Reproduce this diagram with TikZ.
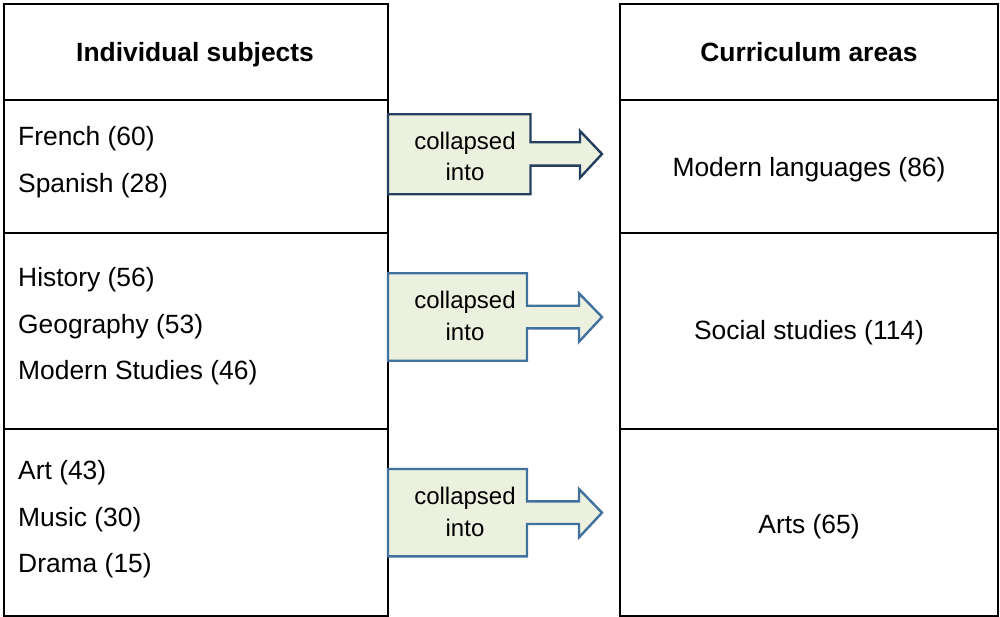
\documentclass[tikz,border=0pt]{standalone}
\usepackage{fontspec}
\setmainfont{Liberation Sans}
\definecolor{boxfill}{HTML}{EBF1DE}
\definecolor{darkedge}{HTML}{243F60}
\definecolor{lightedge}{HTML}{41719C}
\begin{document}
\begin{tikzpicture}[x=1pt,y=-1pt,
  cell/.style={draw=black,line width=2pt,inner sep=0pt},
  head/.style={font=\fontsize{26.4}{30}\selectfont\bfseries},
  item/.style={font=\fontsize{26.4}{30}\selectfont,anchor=west,inner sep=0pt},
  area/.style={font=\fontsize{26.4}{30}\selectfont,inner sep=0pt},
  calltext/.style={font=\fontsize{24}{28}\selectfont,inner sep=0pt},
  callout/.style={fill=boxfill,line width=2.4pt,line join=miter}]
\useasboundingbox (0,0) rectangle (1000,617);
% table cells
\foreach \x/\X/\s in {3.5/388/L,620/998/R}{
  \draw[line width=2pt] (\x,4) rectangle (\X,616);
  \draw[line width=2pt] (\x,100) -- (\X,100);
  \draw[line width=2pt] (\x,233) -- (\X,233);
  \draw[line width=2pt] (\x,429) -- (\X,429);
}
\node[head] (hL) at (195,55) {Individual subjects};
\node[head] (hR) at (809,52) {Curriculum areas};
% subjects
\node[item] (fr) at (18,139) {French (60)};
\node[item] (sp) at (18,186) {Spanish (28)};
\node[item] (hi) at (18,280) {History (56)};
\node[item] (ge) at (18,327) {Geography (53)};
\node[item] (ms) at (18,373) {Modern Studies (46)};
\node[item] (ar) at (18,473) {Art (43)};
\node[item] (mu) at (18,520) {Music (30)};
\node[item] (dr) at (18,566) {Drama (15)};
% curriculum areas
\node[area] (ml) at (809,170) {Modern languages (86)};
\node[area] (ss) at (809,333) {Social studies (114)};
\node[area] (at) at (809,527) {Arts (65)};
% callout arrows
\draw[callout,draw=darkedge] (388,114.3) -- (530.5,114.3) -- (530.5,142.3) -- (580,142.3) -- (580,131) -- (602,154)
  -- (580,177.7) -- (580,165.7) -- (530.5,165.7) -- (530.5,194.3) -- (388,194.3) -- cycle;
\node[calltext] (c1a) at (465,143) {collapsed};
\node[calltext] (c1b) at (465,172) {into};
\foreach \t/\n in {273.3/2,469/3}{
  \draw[callout,draw=lightedge] (388,\t) -- (527,\t) -- (527,\t+32.4) -- (579,\t+32.4) -- (579,\t+20) -- (602,\t+43.7)
    -- (579,\t+68.4) -- (579,\t+55) -- (527,\t+55) -- (527,\t+87.4) -- (388,\t+87.4) -- cycle;
  \node[calltext] (c\n a) at (465,\t+29) {collapsed};
  \node[calltext] (c\n b) at (465,\t+59) {into};
}
\end{tikzpicture}
\end{document}
